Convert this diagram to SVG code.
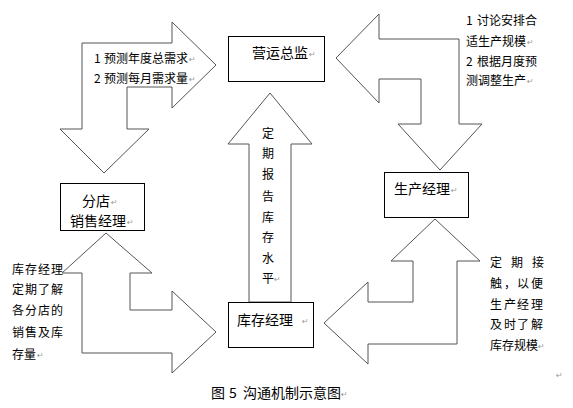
<svg xmlns="http://www.w3.org/2000/svg" width="573" height="408" viewBox="0 0 573 408">
<style>
.arrow{fill:#fff;stroke:#555;stroke-width:1;stroke-linejoin:miter}
.box{fill:#fff;stroke:#000;stroke-width:1}
text{font-family:"Noto Sans CJK SC","Noto Sans",sans-serif;fill:#000;dominant-baseline:central}
.t14{font-size:14px}
.t12{font-size:12px}
.pm{font-family:"DejaVu Sans",sans-serif;font-size:8px;fill:#999}
</style>
<rect width="573" height="408" fill="#fff"/>
<g id="connectors">
<polygon id="arrow-tl" class="arrow" points="82,43 172,43 172,22 216,65 172,108 172,87 127,87 127,129 149,129 104,173 60,129 82,129"/>
<polygon id="arrow-tr" class="arrow" points="336,58 379,14 379,39 459,39 459,124 482,124 440,170 398,124 421,124 421,79 379,79 379,103"/>
<polygon id="arrow-bl" class="arrow" points="106,233 152,273 130,273 130,310 172,310 172,291 216,332 172,373 172,353 82,353 82,273 62,273"/>
<polygon id="arrow-br" class="arrow" points="435,219 480,261 457,261 457,344 368,344 368,364 324,323 368,282 368,302 413,302 413,261 391,261"/>
<polygon id="arrow-mid" class="arrow" points="270,93 312,144 291,144 291,302 249,302 249,144 228,144"/>
</g>
<g id="node-yingyun">
<rect class="box" x="228.5" y="36.5" width="96" height="45"/>
<text class="t14" x="252" y="52">营运总监</text>
<text class="pm" x="309" y="54">↵</text>
</g>
<g id="node-fendian">
<rect class="box" x="60.5" y="183.5" width="84" height="47"/>
<text class="t14" x="82" y="200">分店</text>
<text class="pm" x="111" y="202">↵</text>
<text class="t14" x="70" y="220">销售经理</text>
<text class="pm" x="127" y="222">↵</text>
</g>
<g id="node-shengchan">
<rect class="box" x="384.5" y="172.5" width="84" height="45"/>
<text class="t14" x="394" y="188">生产经理</text>
<text class="pm" x="451" y="190">↵</text>
</g>
<g id="node-kucun">
<rect class="box" x="228.5" y="302.5" width="85" height="45"/>
<text class="t14" x="237" y="319">库存经理</text>
<text class="pm" x="302" y="321">↵</text>
</g>
<g id="labels">
<text class="t12" x="94" y="57">1</text>
<text class="t12" x="104" y="57">预测年度总需求</text>
<text class="pm" x="189" y="59">↵</text>
<text class="t12" x="94" y="77">2</text>
<text class="t12" x="104" y="77">预测每月需求量</text>
<text class="pm" x="189" y="79">↵</text>
<text class="t12" x="466" y="19">1</text>
<text class="t12" x="477" y="19">讨论安排合</text>
<text class="t12" x="466" y="40">适生产规模</text>
<text class="pm" x="527" y="42">↵</text>
<text class="t12" x="466" y="60">2</text>
<text class="t12" x="477" y="60">根据月度预</text>
<text class="t12" x="466" y="79">测调整生产</text>
<text class="pm" x="527" y="81">↵</text>
<text class="t12" x="262" y="132">定</text>
<text class="t12" x="262" y="152">期</text>
<text class="t12" x="262" y="173">报</text>
<text class="t12" x="262" y="195">告</text>
<text class="t12" x="262" y="216">库</text>
<text class="t12" x="262" y="236">存</text>
<text class="t12" x="262" y="257">水</text>
<text class="t12" x="262" y="277">平</text>
<text class="pm" x="274" y="279">↵</text>
<text class="t12" x="12 25 38 51" y="268">库存经理</text>
<text class="t12" x="12 25 38 51" y="288">定期了解</text>
<text class="t12" x="12 25 38 51" y="309">各分店的</text>
<text class="t12" x="12 25 38 51" y="331">销售及库</text>
<text class="t12" x="12 24" y="353">存量</text>
<text class="pm" x="37" y="355">↵</text>
<text class="t12" x="490 511 532" y="261">定期接</text>
<text class="t12" x="490 504 517 531" y="282">触，以便</text>
<text class="t12" x="490 504 517 531" y="303">生产经理</text>
<text class="t12" x="490 504 517 531" y="323">及时了解</text>
<text class="t12" x="490" y="344">库存规模</text>
<text class="pm" x="538" y="346">↵</text>
<text class="pm" x="556" y="375">↵</text>
<text class="t14" x="211" y="392">图</text>
<text class="t14" x="229" y="392">5</text>
<text class="t14" x="243" y="392">沟通机制示意图</text>
<text class="pm" x="341" y="394">↵</text>
</g>
</svg>
